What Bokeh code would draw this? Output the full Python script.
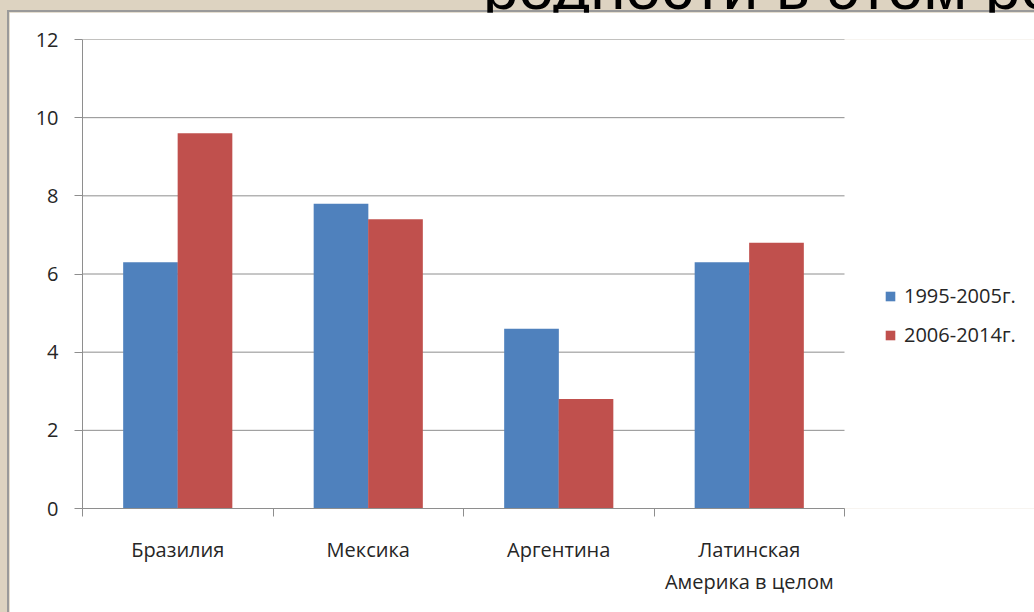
import numpy as np
from bokeh.plotting import figure
from bokeh.models import (ColumnDataSource, Range1d, FixedTicker, Legend, LegendItem,
                          GlobalInlineStyleSheet)
from bokeh.transform import dodge
from bokeh.embed import file_html
from bokeh.resources import INLINE

categories = ["Бразилия", "Мексика", "Аргентина", "Латинская\nАмерика в целом"]
series_names = ["1995-2005г.", "2006-2014г."]
s1995 = [6.3, 7.8, 4.6, 6.3]
s2006 = [9.6, 7.4, 2.8, 6.8]
y_ticks = [0, 2, 4, 6, 8, 10, 12]
slide_title = "родности в этом ре"

BLUE = "#4F81BD"
RED = "#C0504D"
BEIGE = "#DDD3C1"
EDGE = "#9A9A9A"
GRID = "#8E8E8E"
TXT = "#262626"
FONT = "Open Sans"
FS = "20px"

# layout (pixels)
W, H = 1025, 600
LEFT, TOP, BOTTOM = 73, 27, 104
PLOT_W = 762                     # width of the category area
FRAME_W = W - LEFT               # frame reaches the right edge so the legend is not clipped

n = len(categories)
centers = [i + 0.5 for i in range(n)]
src = ColumnDataSource(dict(x=centers, a=s1995, b=s2006))

p = figure(width=W, height=H, output_backend="svg", toolbar_location=None,
           x_range=Range1d(0, n * FRAME_W / PLOT_W), y_range=Range1d(0, 12),
           min_border_left=LEFT, min_border_right=0, min_border_top=TOP,
           min_border_bottom=BOTTOM)
p.background_fill_color = "white"
p.border_fill_color = "white"
p.outline_line_color = None

# horizontal grid lines limited to the category area
p.segment(x0=[0] * len(y_ticks), x1=[n] * len(y_ticks), y0=y_ticks, y1=y_ticks,
          line_color=GRID, line_width=1)

r1 = p.vbar(x=dodge("x", -0.143, range=p.x_range), top="a", width=0.287, source=src,
            fill_color=BLUE, line_color=None)
r2 = p.vbar(x=dodge("x", 0.143, range=p.x_range), top="b", width=0.287, source=src,
            fill_color=RED, line_color=None)

# y axis
yax = p.yaxis[0]
yax.ticker = FixedTicker(ticks=y_ticks)
yax.axis_line_color = GRID
yax.major_tick_line_color = GRID
yax.major_tick_out = 8
yax.major_tick_in = 0
yax.minor_tick_line_color = None
yax.major_label_standoff = 16
yax.major_label_text_font = FONT
yax.major_label_text_font_size = FS
yax.major_label_text_color = TXT

# x axis: labels at centres, ticks at category boundaries
xax = p.xaxis[0]
xax.bounds = (0, n)
xax.ticker = FixedTicker(ticks=centers, minor_ticks=list(range(n + 1)))
xax.major_label_overrides = {c: lab for c, lab in zip(centers, categories)}
xax.axis_line_color = GRID
xax.major_tick_line_color = None
xax.major_tick_out = 0
xax.major_tick_in = 0
xax.minor_tick_line_color = GRID
xax.minor_tick_out = 8
xax.minor_tick_in = 0
xax.major_label_standoff = 19
xax.major_label_text_font = FONT
xax.major_label_text_font_size = FS
xax.major_label_text_color = TXT

p.xgrid.grid_line_color = None
p.ygrid.grid_line_color = None

legend = Legend(items=[LegendItem(label=series_names[0], renderers=[r1]),
                       LegendItem(label=series_names[1], renderers=[r2])],
                location=(PLOT_W + 40, 160))
legend.border_line_color = None
legend.background_fill_color = None
legend.background_fill_alpha = 0
legend.padding = 0
legend.margin = 0
legend.spacing = 12
legend.glyph_width = 12
legend.glyph_height = 12
legend.label_height = 20
legend.label_standoff = 8
legend.label_text_font = FONT
legend.label_text_font_size = FS
legend.label_text_color = TXT
p.add_layout(legend)

css = (
    "html { margin:0; padding:0; overflow:hidden; background:%s; }"
    "body { margin:0; padding:12px 0 0 9px; overflow:hidden; position:relative;"
    " background: linear-gradient(%s,%s) 7px 10px / 2px 100%% no-repeat,"
    " linear-gradient(%s,%s) 7px 10px / 100%% 2px no-repeat, %s; }"
    "body::before { content:'%s'; position:absolute; left:483px; top:-45px;"
    " font-family:'Liberation Sans', Arial, sans-serif; font-size:64px; line-height:64px;"
    " color:#000; white-space:nowrap; z-index:0; }"
    "body > div { position:relative; z-index:1; }"
) % (BEIGE, EDGE, EDGE, EDGE, EDGE, BEIGE, slide_title)
p.stylesheets = [GlobalInlineStyleSheet(css=css)]

open("out.html", "w").write(file_html(p, INLINE))
